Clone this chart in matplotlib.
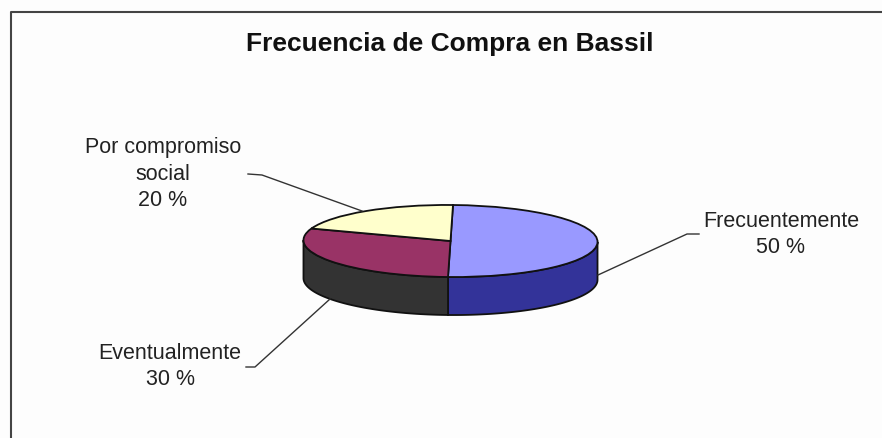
import numpy as np
import matplotlib
matplotlib.use("Agg")
import matplotlib.pyplot as plt
from matplotlib.transforms import Affine2D

title = "Frecuencia de Compra en Bassil"
categories = ["Frecuentemente", "Eventualmente", "Por compromiso\nsocial"]
values = [50, 30, 20]
top_colors = ["#9999FF", "#993366", "#FFFFCC"]
side_colors = ["#333399", "#333333", "#666633"]

W, H = 882, 438
plt.rcParams["font.family"] = ["Liberation Sans", "DejaVu Sans"]
fig = plt.figure(figsize=(W / 100, H / 100), dpi=100, facecolor="#FDFDFD")

# Overlay in pixel coordinates for frame, leaders and labels
ov = fig.add_axes([0, 0, 1, 1], zorder=2)
ov.set_xlim(0, W)
ov.set_ylim(H, 0)
ov.axis("off")
ov.patch.set_alpha(0)

# Pie axes: one data unit = semi-axes of the ellipse
cx, cy, rx, ry, depth = 450.5, 241, 147, 36, 38
xl, xr = -1.3, 1.3
yb, yt = -2.6, 1.4
ax = fig.add_axes([(cx + xl * rx) / W, (H - (cy - yb * ry)) / H,
                   (xr - xl) * rx / W, (yt - yb) * ry / H], zorder=1)
wedges, _ = ax.pie(values, colors=top_colors, startangle=90, counterclock=False,
                   wedgeprops=dict(edgecolor="#111111", linewidth=1.3))
ax.set_aspect("auto")
ax.set_xlim(xl, xr)
ax.set_ylim(yb, yt)
ax.axis("off")

k_x, k_y = 0.017, -0.04
shear = Affine2D.from_values(1, k_y, k_x, 1, 0, 0) + ax.transData
for w in wedges:
    w.set_transform(shear)
    w.set_zorder(3)

# Extruded rim, built from the same slice angles; visible arc runs between the
# silhouette points of the tilted ellipse
d = depth / ry
t0 = np.degrees(np.arctan(k_x))
edges = 90 - 360 * np.concatenate([[0], np.cumsum(values)]) / np.sum(values)
for a0, a1, col in zip(edges[:-1], edges[1:], side_colors):
    hi, lo = min(a0, t0), max(a1, t0 - 180)
    if hi <= lo:
        continue
    t = np.radians(np.linspace(hi, lo, 80))
    xs = np.cos(t) + k_x * np.sin(t)
    ys = np.sin(t) + k_y * np.cos(t)
    ax.fill(np.r_[xs, xs[::-1]], np.r_[ys, ys[::-1] - d], facecolor=col,
            edgecolor="#111111", linewidth=1.3, zorder=2)

# Frame running off the right and bottom of the picture
ov.plot([W + 5, 10.5, 10.5], [11.5, 11.5, H + 5], color="#444444", lw=1.5)

ink = "#222222"
ov.text(449.5, 44, title, ha="center", va="center", fontsize=19, fontweight="bold", color="#111111")

label_xy = [(781, 234.5), (170, 366.5), (163, 174)]
leaders = [
    ([598, 687, 699], [275, 234, 234]),
    ([246, 255, 330], [367, 367, 299]),
    ([248, 262, 362], [174, 175, 211]),
]
for cat, v, (lx, ly), (kx, ky) in zip(categories, values, label_xy, leaders):
    ov.text(lx, ly, f"{cat}\n{v} %", ha="center", va="center", fontsize=15.5,
            color=ink, linespacing=1.32)
    ov.plot(kx, ky, color="#333333", lw=1.0)

fig.savefig("out.png", dpi=100, facecolor=fig.get_facecolor())
